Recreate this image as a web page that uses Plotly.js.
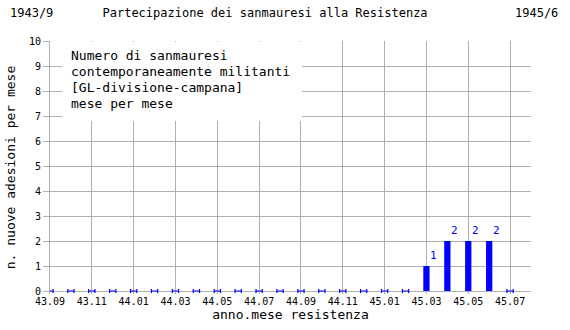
<!DOCTYPE html>
<html><head><meta charset="utf-8">
<script src="https://cdn.plot.ly/plotly-3.0.1.min.js"></script>
<style>html,body{margin:0;padding:0;background:#fff}#chart{width:570px;height:330px}</style>
</head><body><div id="chart"></div>
<script>
const months = ['43.09','43.10','43.11','43.12','44.01','44.02','44.03','44.04','44.05','44.06','44.07','44.08','44.09','44.10','44.11','44.12','45.01','45.02','45.03','45.04','45.05','45.06','45.07'];
const adesioni = [0,0,0,0,0,0,0,0,0,0,0,0,0,0,0,0,0,0,1,2,2,2,0];
const tickLabels = ['43.09','43.11','44.01','44.03','44.05','44.07','44.09','44.11','45.01','45.03','45.05','45.07'];
const chartTitle = 'Partecipazione dei sanmauresi alla Resistenza';
const startLabel = '1943/9';
const endLabel = '1945/6';
const legendLines = ['Numero di sanmauresi','contemporaneamente militanti','[GL-divisione-campana]','mese per mese'];

const FONT = '"DejaVu Sans Mono", "Liberation Mono", monospace';
const GRID = '#b0b0b0';

const idx = months.map((m, i) => i);
const nzX = idx.filter(i => adesioni[i] > 0);
const nzY = nzX.map(i => adesioni[i]);
const zX = idx.filter(i => adesioni[i] === 0);
const zY = zX.map(i => adesioni[i]);
const tickVals = tickLabels.map(t => months.indexOf(t));

const traces = [
  {type:'bar', x:nzX, y:nzY, width:0.3, marker:{color:'#0000ff', line:{width:0}}, hoverinfo:'none'},
  {type:'scatter', mode:'markers', x:zX, y:zY, cliponaxis:false,
   marker:{size:2, color:'rgba(0,0,255,0)'},
   error_x:{type:'constant', value:0.15, color:'#0000ff', thickness:1.2, width:2}, hoverinfo:'none'}
];

const annotations = [
  {xref:'paper', yref:'paper', x:-0.087, y:1.112, xanchor:'left', yanchor:'middle', text:startLabel, showarrow:false, font:{family:FONT, size:12, color:'#000'}},
  {xref:'paper', yref:'paper', x:1.06, y:1.112, xanchor:'right', yanchor:'middle', text:endLabel, showarrow:false, font:{family:FONT, size:12, color:'#000'}}
];
legendLines.forEach((t, i) => annotations.push({xref:'paper', yref:'paper', x:0.0395, y:0.944 - i*0.064, xanchor:'left', yanchor:'middle', text:t, showarrow:false, font:{family:FONT, size:13, color:'#000'}}));
nzX.forEach((x, i) => annotations.push({x:x, y:nzY[i], xref:'x', yref:'y', text:String(nzY[i]), showarrow:false, xshift:7, yanchor:'bottom', yshift:2, font:{family:FONT, size:11, color:'#0000ff'}}));

const layout = {
  width:570, height:330,
  margin:{l:50, r:39, t:41, b:36},
  paper_bgcolor:'#fff', plot_bgcolor:'#fff',
  showlegend:false,
  font:{family:FONT, color:'#000'},
  title:{text:chartTitle, x:0.465, xanchor:'center', y:0.96, yanchor:'middle', font:{family:FONT, size:12, color:'#000'}},
  xaxis:{range:[0,23], tickmode:'array', tickvals:tickVals, ticktext:tickLabels, ticks:'', layer:'below traces',
    showgrid:true, gridcolor:GRID, gridwidth:1, showline:false, zeroline:false,
    tickfont:{family:FONT, size:10, color:'#000'},
    title:{text:'anno.mese resistenza', font:{family:FONT, size:13, color:'#000'}, standoff:3}},
  yaxis:{range:[-0.12,10], tickmode:'array', tickvals:[0,1,2,3,4,5,6,7,8,9,10], ticks:'outside', ticklen:6, tickcolor:GRID, layer:'below traces',
    showgrid:true, gridcolor:GRID, gridwidth:1, showline:true, linecolor:GRID, linewidth:1,
    zeroline:true, zerolinecolor:GRID, zerolinewidth:1,
    tickfont:{family:FONT, size:10, color:'#000'},
    title:{text:'n. nuove adesioni per mese', font:{family:FONT, size:13, color:'#000'}, standoff:10}},
  shapes:[{type:'rect', xref:'paper', yref:'paper', x0:0.025, x1:0.524, y0:0.684, y1:0.996, fillcolor:'#fff', line:{width:0}, layer:'above'}],
  annotations:annotations
};
Plotly.newPlot('chart', traces, layout, {displayModeBar:false, staticPlot:true});
</script></body></html>
